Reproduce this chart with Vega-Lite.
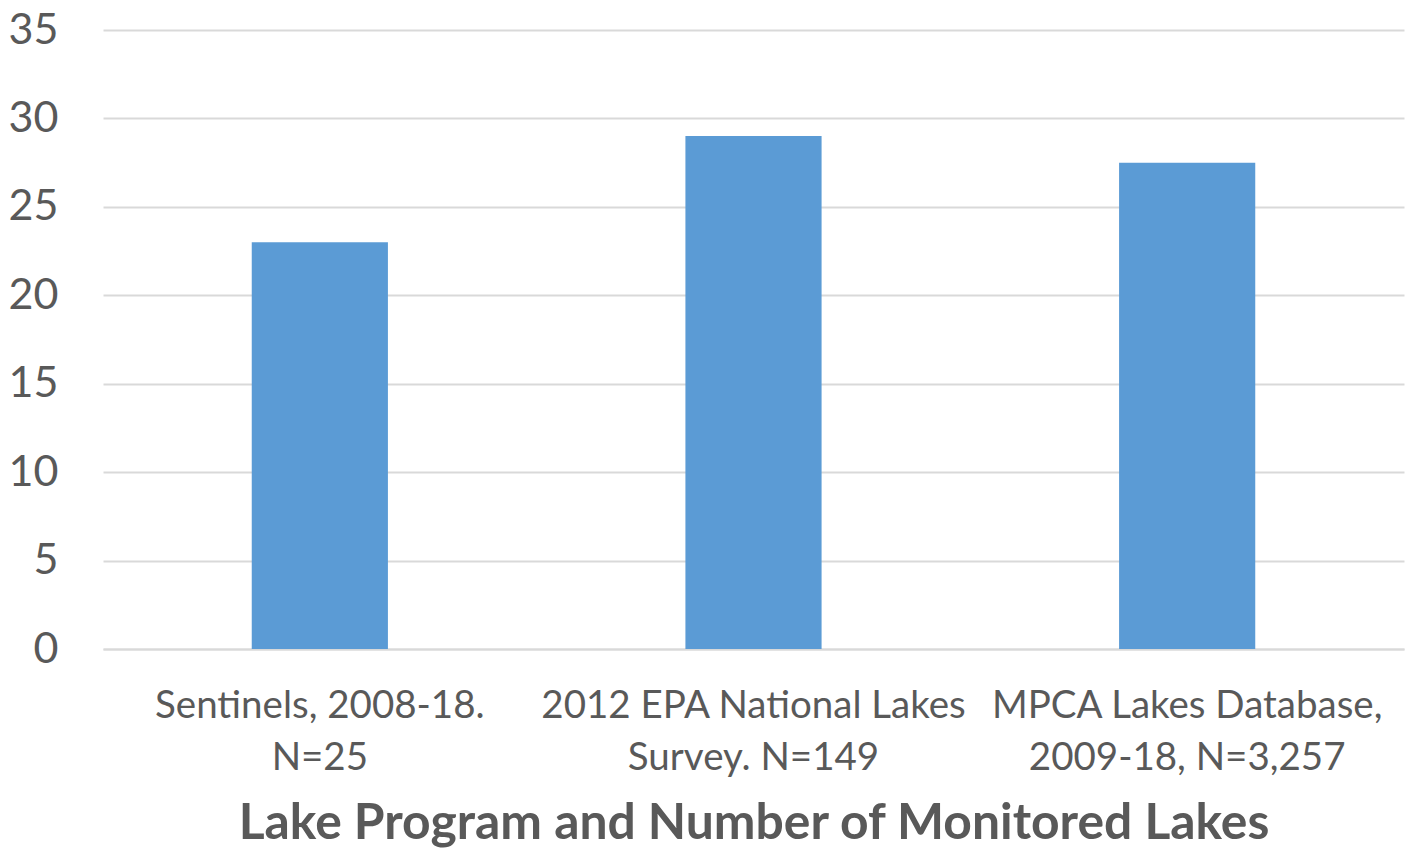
{
  "$schema": "https://vega.github.io/schema/vega-lite/v6.json",
  "autosize": "none",
  "width": 1301,
  "height": 619,
  "padding": {"left": 103, "top": 30, "right": 8, "bottom": 199},
  "background": "white",
  "config": {
    "view": {"stroke": null},
    "font": "Lato"
  },
  "data": {
    "values": [
      {"program": "Sentinels, 2008-18.\nN=25", "value": 23},
      {"program": "2012 EPA National Lakes\nSurvey. N=149", "value": 29},
      {"program": "MPCA Lakes Database,\n2009-18, N=3,257", "value": 27.5}
    ]
  },
  "mark": {"type": "bar", "color": "#5B9BD5"},
  "encoding": {
    "x": {
      "field": "program",
      "type": "nominal",
      "sort": null,
      "scale": {"paddingInner": 0.686, "paddingOuter": 0.343},
      "axis": {
        "title": "Lake Program and Number of Monitored Lakes",
        "titleFont": "Lato",
        "titleFontSize": 49.8,
        "titleFontWeight": "bold",
        "titleColor": "#595959",
        "titleBaseline": "alphabetic",
        "titleY": 189,
        "labelExpr": "split(datum.value, '\\n')",
        "labelAngle": 0,
        "labelFontSize": 38.5,
        "labelColor": "#595959",
        "labelLineHeight": 52,
        "labelPadding": 38,
        "labelBaseline": "top",
        "ticks": false,
        "domainColor": "#D9D9D9",
        "domainWidth": 2,
        "labelLimit": 0
      }
    },
    "y": {
      "field": "value",
      "type": "quantitative",
      "scale": {"domain": [0, 35]},
      "axis": {
        "title": null,
        "values": [0, 5, 10, 15, 20, 25, 30, 35],
        "domain": false,
        "ticks": false,
        "labelFontSize": 43,
        "labelColor": "#595959",
        "labelPadding": 45,
        "gridColor": "#D9D9D9",
        "gridWidth": 2
      }
    }
  }
}
